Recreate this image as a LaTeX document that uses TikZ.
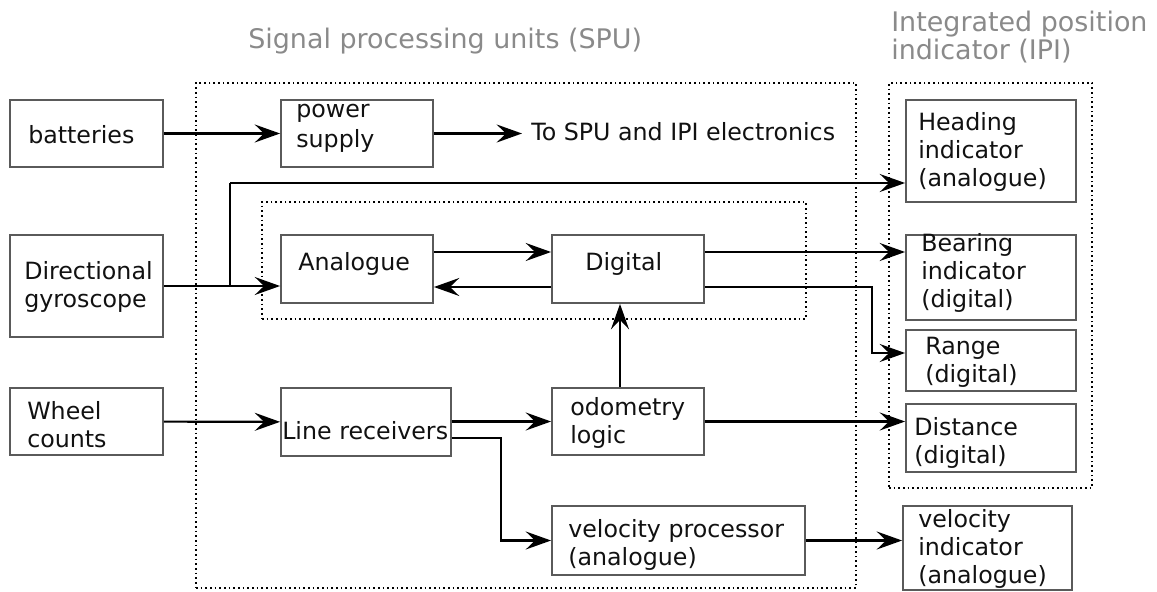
\documentclass[tikz,border=0pt]{standalone}
\usepackage{fontspec}
\setmainfont{DejaVu Sans}
\usetikzlibrary{arrows.meta,fit,calc}
\definecolor{boxgray}{HTML}{5A5A5A}
\definecolor{textblack}{HTML}{111111}
\definecolor{titlegray}{HTML}{8A8A8A}
\begin{document}
\begin{tikzpicture}[x=0.75pt,y=-0.75pt,
  box/.style={draw=boxgray, line width=1.4pt, inner sep=0pt},
  group/.style={draw=black, line width=1.3pt, dash pattern=on 1.3pt off 2.2pt, inner sep=0pt},
  % multi-line texts sit on the baseline of their last line
  txt/.style={inner sep=0pt, anchor=base west, align=left, text=textblack,
    font=\fontsize{17.8}{21}\selectfont},
  title/.style={txt, text=titlegray, font=\fontsize{20.2}{21}\selectfont},
  wire/.style={draw=black, line width=1.6pt},
  arr/.style={wire, -{Stealth[length=19pt,width=13.5pt,inset=7pt]}}]
\useasboundingbox (0,0) rectangle (1157,592);

% group frames and their titles
\node[group, fit={(196,83)(856,588)}] (spu) {};
\node[group, fit={(262,202)(806,319)}] (core) {};
\node[group, fit={(889,83)(1092,488)}] (ipi) {};
\node[title] (spuT) at (248,49) {Signal processing units (SPU)};
\node[title] (ipiT) at (891,60) {Integrated position\\indicator (IPI)};

% inputs
\node[box, fit={(10,100)(163,167)}] (bat) {};
\node[txt] (batT) at (28,143) {batteries};
\node[box, fit={(10,235)(163,337)}] (gyro) {};
\node[txt] (gyroT) at (24,307) {Directional\\gyroscope};
\node[box, fit={(10,388)(163,455)}] (wheel) {};
\node[txt] (wheelT) at (27,447) {Wheel\\counts};

% signal processing units
\node[box, fit={(281,100)(433,167)}] (ps) {};
\node[txt, font=\fontsize{17.8}{22.5}\selectfont] (psT) at (296,147) {power\\supply};
\node[txt] (toSPU) at (531,140) {To SPU and IPI electronics};
\node[box, fit={(281,235)(433,303)}] (ana) {};
\node[txt] (anaT) at (298,270) {Analogue};
\node[box, fit={(552,235)(704,303)}] (dig) {};
\node[txt] (digT) at (585,270) {Digital};
\node[box, fit={(281,388)(451,456)}] (line) {};
\node[txt] (lineT) at (282,439) {Line receivers};
\node[box, fit={(552,388)(704,455)}] (odo) {};
\node[txt] (odoT) at (570,443) {odometry\\logic};
\node[box, fit={(552,506)(805,575)}] (vel) {};
\node[txt] (velT) at (568,565) {velocity processor\\(analogue)};

% integrated position indicator
\node[box, fit={(906,100)(1076,202)}] (head) {};
\node[txt] (headT) at (918,186) {Heading\\indicator\\(analogue)};
\node[box, fit={(906,235)(1076,320)}] (bear) {};
\node[txt] (bearT) at (921,307) {Bearing\\indicator\\(digital)};
\node[box, fit={(906,330)(1076,391)}] (range) {};
\node[txt] (rangeT) at (925,382) {Range\\(digital)};
\node[box, fit={(906,404)(1076,472)}] (dist) {};
\node[txt] (distT) at (914,463) {Distance\\(digital)};
\node[box, fit={(903,506)(1072,590)}] (velind) {};
\node[txt] (velindT) at (918,583) {velocity\\indicator\\(analogue)};

% routing points
\coordinate (gyBranch) at (230,286);
\coordinate (headIn) at (230,183);
\coordinate (aTop) at ($(ana.east)+(0,-17)$);
\coordinate (dTop) at ($(dig.east)+(0,-17)$);
\coordinate (dBot) at ($(dig.west)+(0,18)$);
\coordinate (dBotR) at ($(dig.east)+(0,18)$);
\coordinate (rangeTurn) at (872,287);
\coordinate (rangeIn) at (872,353);
\coordinate (lineLow) at ($(line.east)+(0,16)$);
\coordinate (velTurn) at (501,438);
\coordinate (odoUp) at ($(odo.north)+(-8,0)$);

% connectors
\draw[arr] (bat) -- (ps);
\draw[arr] (ps.east) -- ($(ps.east -| toSPU.west)+(-9,0)$);
\draw[arr] (gyro.east) -- (gyro.east -| ana.west);
\draw[wire] (gyBranch) -- (headIn);
\draw[arr] (headIn) -- (headIn -| head.west);
\draw[arr] (aTop) -- (aTop -| dig.west);
\draw[arr] (dBot) -- (dBot -| ana.east);
\draw[arr] (dTop) -- (dTop -| bear.west);
\draw[arr] (dBotR) -- (rangeTurn) -- (rangeIn) -- (rangeIn -| range.west);
\draw[arr] (odoUp) -- (odoUp |- dig.south);
\draw[arr] (odo.east) -- (odo.east -| dist.west);
\draw[arr] (wheel) -- (line);
\draw[arr] (line.east |- odo.west) -- (odo.west);
\draw[arr] (lineLow) -- (velTurn) |- (vel.west);
\draw[arr] (vel.east) -- (vel.east -| velind.west);
\end{tikzpicture}
\end{document}
